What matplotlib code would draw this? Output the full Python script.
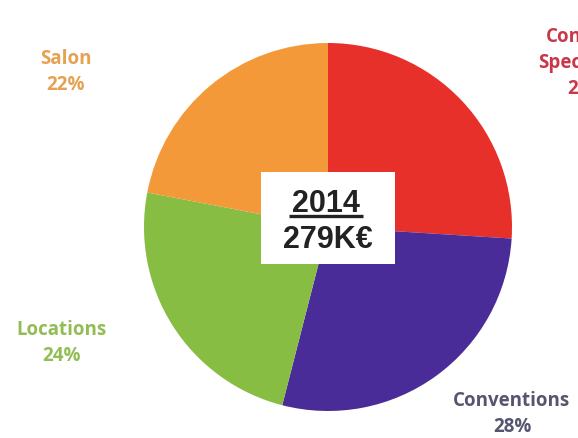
import matplotlib.pyplot as plt

# Revenue split for 2014
categories = ['Concerts\nSpectacles', 'Conventions', 'Locations', 'Salon']
shares = [26, 28, 24, 22]
slice_colors = ['#e8302a', '#4a2c98', '#86bd42', '#f4993a']
label_colors = ['#c8384a', '#55556f', '#92bd55', '#e4a252']
year = '2014'
total = '279K€'

W, H = 578, 438
fig = plt.figure(figsize=(W / 100, H / 100), dpi=100)
ax = fig.add_axes([0, 0, 1, 1])

cx, cy, r = 328, H - 227, 184
ax.pie(shares, colors=slice_colors, startangle=90, counterclock=False,
       center=(cx, cy), radius=r, frame=True,
       wedgeprops=dict(linewidth=0))
ax.set_xlim(0, W)
ax.set_ylim(0, H)
ax.set_aspect('equal')
ax.axis('off')

# Outside labels: name and percentage
label_pos = [(587, H - 63), (512, H - 414), (62, H - 343), (66, H - 72)]
for name, pct, col, (x, y) in zip(categories, shares, label_colors, label_pos):
    ax.text(x, y, f'{name}\n{pct}%', ha='center', va='center', color=col,
            fontsize=13.5, fontweight='bold', family='Open Sans',
            linespacing=1.4)

# Central box with year and total
ax.add_patch(plt.Rectangle((261, H - 264), 134, 92, facecolor='white',
                           edgecolor='none', zorder=3))
ax.text(326, H - 212, year, ha='center', va='baseline', fontsize=22,
        fontweight='bold', family='Liberation Sans', color='#222222', zorder=4)
ax.plot([289, 363], [H - 216, H - 216], color='#222222', lw=2.4,
        solid_capstyle='butt', zorder=4)
ax.text(328, H - 248, total, ha='center', va='baseline', fontsize=22,
        fontweight='bold', family='Liberation Sans', color='#222222', zorder=4)

fig.savefig('out.png', dpi=100)
